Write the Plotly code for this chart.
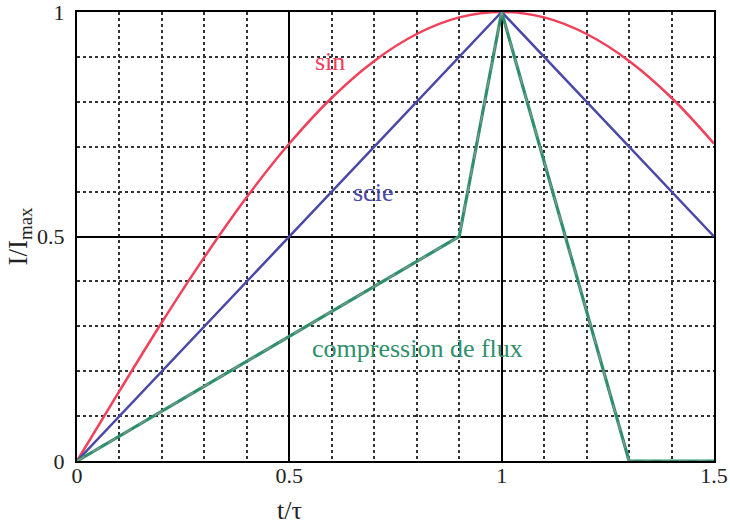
import plotly.graph_objects as go

# Normalised time t/tau
t_sin = [0.0, 0.1, 0.2, 0.3, 0.4, 0.5, 0.6, 0.7, 0.8, 0.9, 1.0, 1.1, 1.2, 1.3, 1.4, 1.5]
i_sin = [0.0, 0.156, 0.309, 0.454, 0.588, 0.707, 0.809, 0.891, 0.951, 0.988, 1.0,
         0.988, 0.951, 0.891, 0.809, 0.707]

t_scie = [0.0, 1.0, 1.5]
i_scie = [0.0, 1.0, 0.5]

t_flux = [0.0, 0.9, 1.0, 1.3, 1.5]
i_flux = [0.0, 0.5, 1.0, 0.0, 0.0]

x_ticks = [0, 0.5, 1, 1.5]
x_tick_text = ["0", "0.5", "1", "1.5"]
y_ticks = [0, 0.5, 1]
y_tick_text = ["0", "0.5", "1"]

RED = "#f0405a"
BLUE = "#4a48a8"
GREEN = "#2f8f6c"
INK = "#222"
SERIF = "Liberation Serif"

fig = go.Figure()
fig.add_trace(go.Scatter(x=t_sin, y=i_sin, mode="lines", line=dict(color=RED, width=2.5, shape="spline")))
fig.add_trace(go.Scatter(x=t_scie, y=i_scie, mode="lines", line=dict(color=BLUE, width=2.5)))
fig.add_trace(go.Scatter(x=t_flux, y=i_flux, mode="lines", line=dict(color=GREEN, width=3.2)))
fig.add_trace(go.Scatter(x=t_flux, y=i_flux, mode="lines", line=dict(color="#8a9a90", width=1.2, dash="dash")))

# Curve labels
fig.add_annotation(x=0.595, y=0.889, text="sin", showarrow=False, font=dict(family=SERIF, size=26, color=RED))
fig.add_annotation(x=0.697, y=0.597, text="scie", showarrow=False, font=dict(family=SERIF, size=26, color=BLUE))
fig.add_annotation(x=0.802, y=0.25, text="compression de flux", showarrow=False,
                   font=dict(family=SERIF, size=26, color=GREEN))

# x-axis title, centred under t/tau = 0.5
fig.add_annotation(x=0.5, xref="x", y=0, yref="paper", yanchor="top", yshift=-33,
                   text="t/τ", showarrow=False, font=dict(family=SERIF, size=26, color=INK))

axis_common = dict(
    showline=True, linecolor="black", linewidth=2, mirror=True,
    showgrid=True, gridcolor="black", gridwidth=1.5,
    zeroline=False, ticks="", automargin=False, ticklabeloverflow="allow",
    tickfont=dict(family=SERIF, size=22, color=INK),
)

fig.update_xaxes(
    range=[0, 1.5], tickvals=x_ticks, ticktext=x_tick_text,
    minor=dict(dtick=0.1, tick0=0, showgrid=True, gridcolor="#333", griddash="dot", gridwidth=1.5),
    ticklabelstandoff=-6,
    **axis_common,
)
fig.update_yaxes(
    range=[0, 1], tickvals=y_ticks, ticktext=y_tick_text,
    minor=dict(dtick=0.1, tick0=0, showgrid=True, gridcolor="#333", griddash="dot", gridwidth=1.5),
    title=dict(text="I/I<sub>max</sub>", font=dict(family=SERIF, size=27, color=INK), standoff=2),
    ticklabelstandoff=6,
    **axis_common,
)

fig.update_layout(
    width=730, height=524,
    margin=dict(l=77, r=16, t=12, b=63),
    plot_bgcolor="white", paper_bgcolor="white",
    showlegend=False,
)

fig.write_html("out.html")
